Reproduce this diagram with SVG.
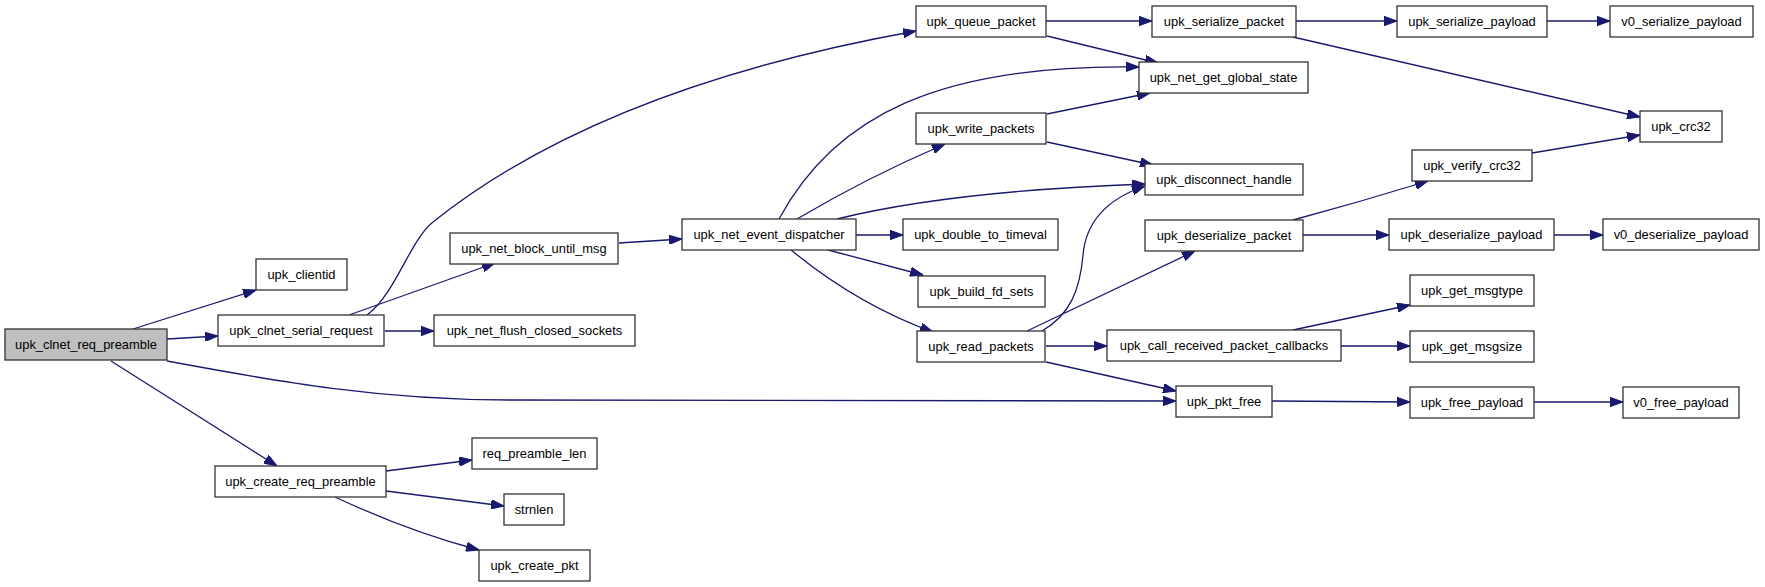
<svg xmlns="http://www.w3.org/2000/svg" width="1765" height="587" viewBox="0 0 1765 587">
<defs>
<style>
.n rect{fill:#ffffff;stroke:#333333;stroke-width:1.3}
.n.root rect{fill:#bfbfbf}
.n text{font-family:"Liberation Sans",Arial,sans-serif;font-size:12.9px;fill:#000000;text-anchor:middle}
.e path{fill:none;stroke:#191970;stroke-width:1.3;marker-end:url(#arr)}
</style>
<marker id="arr" markerUnits="userSpaceOnUse" viewBox="0 0 13 9.4" markerWidth="13" markerHeight="9.4" refX="13" refY="4.7" orient="auto">
<path d="M0,0 L13,4.7 L0,9.4 z" fill="#191970" stroke="#191970" stroke-width="1"/>
</marker>
</defs>
<rect width="1765" height="587" fill="#ffffff"/>
<g id="edges" class="e">
<path d="M133,329 L256,290"/>
<path d="M167,339 L218,336"/>
<path d="M167,361 C280,382 380,400 510,400 L1176,401"/>
<path d="M111,361 L277,466"/>
<path d="M367,315 C395,295 410,240 433,222 C523,150 666,76 916,31"/>
<path d="M349,315 L495,263"/>
<path d="M385,331 L434,331"/>
<path d="M386,471 L472,460"/>
<path d="M386,491 L504,506"/>
<path d="M335,497 Q410,532 479,550"/>
<path d="M619,243 L682,239"/>
<path d="M779,219 C835,115 940,64 1139,67"/>
<path d="M797,219 Q866,178 945,144"/>
<path d="M837,219 Q950,191 1145,184"/>
<path d="M856,235 L903,235"/>
<path d="M828,250 L923,275"/>
<path d="M791,250 Q858,305 933,332"/>
<path d="M1046,21 L1152,21"/>
<path d="M1047,36 L1158,63"/>
<path d="M1296,21 L1397,21"/>
<path d="M1293,37 L1640,117"/>
<path d="M1547,21 L1610,21"/>
<path d="M1047,114 L1150,93"/>
<path d="M1047,142 L1153,165"/>
<path d="M1532,153 L1640,135"/>
<path d="M1293,220 Q1360,202 1428,181"/>
<path d="M1303,235 L1389,235"/>
<path d="M1554,235 L1603,235"/>
<path d="M1042,331 C1070,315 1080,290 1083,255 C1086,220 1110,198 1145,186"/>
<path d="M1027,331 L1195,251"/>
<path d="M1046,346 L1107,346"/>
<path d="M1046,362 L1176,391"/>
<path d="M1293,330 L1410,305"/>
<path d="M1341,346 L1410,346"/>
<path d="M1272,401 L1410,402"/>
<path d="M1534,402 L1623,402"/>
</g>
<g id="upk_clnet_req_preamble" class="n root"><rect x="5" y="329" width="162" height="31"/><text x="86" y="349">upk_clnet_req_preamble</text></g>
<g id="upk_clientid" class="n"><rect x="256" y="259" width="91" height="31"/><text x="301.5" y="279">upk_clientid</text></g>
<g id="upk_clnet_serial_request" class="n"><rect x="218" y="315" width="166" height="31"/><text x="301" y="335">upk_clnet_serial_request</text></g>
<g id="upk_create_req_preamble" class="n"><rect x="215" y="466" width="171" height="31"/><text x="300.5" y="486">upk_create_req_preamble</text></g>
<g id="req_preamble_len" class="n"><rect x="472" y="438" width="125" height="31"/><text x="534.5" y="458">req_preamble_len</text></g>
<g id="strnlen" class="n"><rect x="504" y="494" width="60" height="31"/><text x="534" y="514">strnlen</text></g>
<g id="upk_create_pkt" class="n"><rect x="479" y="550" width="111" height="31"/><text x="534.5" y="570">upk_create_pkt</text></g>
<g id="upk_net_block_until_msg" class="n"><rect x="450" y="233" width="168" height="31"/><text x="534" y="253">upk_net_block_until_msg</text></g>
<g id="upk_net_flush_closed_sockets" class="n"><rect x="434" y="315" width="201" height="31"/><text x="534.5" y="335">upk_net_flush_closed_sockets</text></g>
<g id="upk_net_event_dispatcher" class="n"><rect x="682" y="219" width="174" height="31"/><text x="769" y="239">upk_net_event_dispatcher</text></g>
<g id="upk_queue_packet" class="n"><rect x="916" y="6" width="130" height="31"/><text x="981" y="26">upk_queue_packet</text></g>
<g id="upk_serialize_packet" class="n"><rect x="1152" y="6" width="144" height="31"/><text x="1224" y="26">upk_serialize_packet</text></g>
<g id="upk_net_get_global_state" class="n"><rect x="1139" y="62" width="169" height="31"/><text x="1223.5" y="82">upk_net_get_global_state</text></g>
<g id="upk_write_packets" class="n"><rect x="916" y="113" width="130" height="31"/><text x="981" y="133">upk_write_packets</text></g>
<g id="upk_disconnect_handle" class="n"><rect x="1145" y="164" width="158" height="31"/><text x="1224" y="184">upk_disconnect_handle</text></g>
<g id="upk_double_to_timeval" class="n"><rect x="903" y="219" width="155" height="31"/><text x="980.5" y="239">upk_double_to_timeval</text></g>
<g id="upk_build_fd_sets" class="n"><rect x="918" y="276" width="127" height="31"/><text x="981.5" y="296">upk_build_fd_sets</text></g>
<g id="upk_read_packets" class="n"><rect x="917" y="331" width="128" height="31"/><text x="981" y="351">upk_read_packets</text></g>
<g id="upk_deserialize_packet" class="n"><rect x="1145" y="220" width="158" height="31"/><text x="1224" y="240">upk_deserialize_packet</text></g>
<g id="upk_call_received_packet_callbacks" class="n"><rect x="1107" y="330" width="234" height="31"/><text x="1224" y="350">upk_call_received_packet_callbacks</text></g>
<g id="upk_pkt_free" class="n"><rect x="1176" y="386" width="96" height="31"/><text x="1224" y="406">upk_pkt_free</text></g>
<g id="upk_serialize_payload" class="n"><rect x="1397" y="6" width="150" height="31"/><text x="1472" y="26">upk_serialize_payload</text></g>
<g id="v0_serialize_payload" class="n"><rect x="1610" y="6" width="143" height="31"/><text x="1681.5" y="26">v0_serialize_payload</text></g>
<g id="upk_crc32" class="n"><rect x="1640" y="111" width="82" height="31"/><text x="1681" y="131">upk_crc32</text></g>
<g id="upk_verify_crc32" class="n"><rect x="1412" y="150" width="120" height="31"/><text x="1472" y="170">upk_verify_crc32</text></g>
<g id="upk_deserialize_payload" class="n"><rect x="1389" y="219" width="165" height="31"/><text x="1471.5" y="239">upk_deserialize_payload</text></g>
<g id="v0_deserialize_payload" class="n"><rect x="1603" y="219" width="156" height="31"/><text x="1681" y="239">v0_deserialize_payload</text></g>
<g id="upk_get_msgtype" class="n"><rect x="1410" y="275" width="124" height="31"/><text x="1472" y="295">upk_get_msgtype</text></g>
<g id="upk_get_msgsize" class="n"><rect x="1410" y="331" width="124" height="31"/><text x="1472" y="351">upk_get_msgsize</text></g>
<g id="upk_free_payload" class="n"><rect x="1410" y="387" width="124" height="31"/><text x="1472" y="407">upk_free_payload</text></g>
<g id="v0_free_payload" class="n"><rect x="1623" y="387" width="116" height="31"/><text x="1681" y="407">v0_free_payload</text></g>
</svg>
